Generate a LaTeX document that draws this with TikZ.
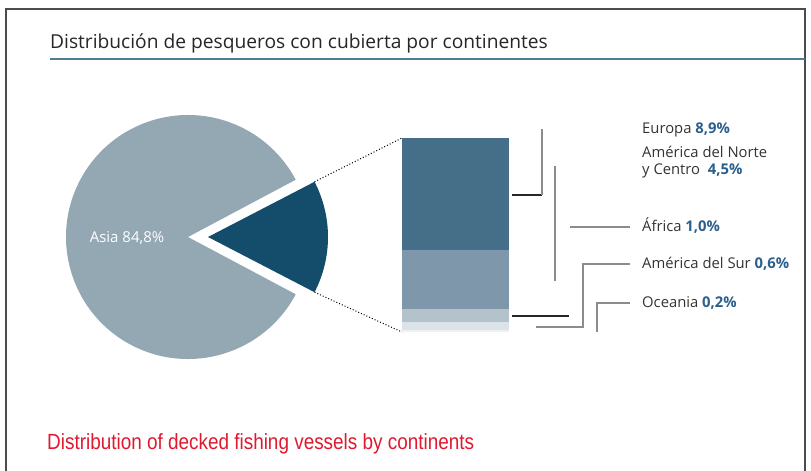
\documentclass[tikz,border=0pt]{standalone}
\usepackage{fontspec}
\setmainfont{Open Sans}
\newfontfamily\capfont[FakeStretch=0.86]{Liberation Sans}
\usetikzlibrary{calc}
\definecolor{piegray}{HTML}{94A8B4}
\definecolor{piedark}{HTML}{134D6B}
\definecolor{barone}{HTML}{456F88}
\definecolor{bartwo}{HTML}{7F97AA}
\definecolor{barthree}{HTML}{B4C2CC}
\definecolor{barfour}{HTML}{DCE3E8}
\definecolor{barfive}{HTML}{EEF1F4}
\definecolor{rulecol}{HTML}{4F7D93}
\definecolor{pctblue}{HTML}{2B5F8C}
\definecolor{capred}{HTML}{E0192F}
\definecolor{txtgray}{HTML}{333333}
\newcommand{\pct}[1]{\textcolor{pctblue}{\bfseries #1}}

\begin{document}
\begin{tikzpicture}[x=1pt,y=-1pt,
    lead/.style={draw=black!45,line width=1.3pt},
    leaddark/.style={draw=black!85,line width=1.3pt},
    lbl/.style={anchor=base west,inner sep=0pt,text=txtgray,font=\fontsize{14.8}{17}\selectfont,align=left}]
  \useasboundingbox (0,0) rectangle (811,471);
  % frame and title
  \draw [black!70,line width=1.3pt] (6,471) -- (6,9) -- (805,9) -- (805,471);
  \node [anchor=base west,inner sep=0pt,text=black!85,font=\fontsize{19.2}{21}\selectfont] (title) at (50,48) {Distribución de pesqueros con cubierta por continentes};
  \draw [rulecol,line width=2.5pt] (50,59) -- (805,59);
  % pie
  \coordinate (c) at (188,237);
  \fill [piegray] (c) -- ++(28:122) arc (28:332:122) -- cycle;
  \coordinate (w) at (208,237);
  \fill [piedark] (w) -- ++(-27.4:120) arc (-27.4:27.4:120) -- cycle;
  \coordinate (wtop) at ($(w)+(-27.4:120)$);
  \coordinate (wbot) at ($(w)+(27.4:120)$);
  \node [text=white,font=\fontsize{15}{16}\selectfont,inner sep=0pt] (asia) at (127,238) {Asia 84,8\%};
  % bar
  \fill [barone] (402,138) rectangle (509,250);
  \fill [bartwo] (402,250) rectangle (509,309);
  \fill [barthree] (402,309) rectangle (509,322);
  \fill [barfour] (402,322) rectangle (509,330);
  \fill [barfive] (402,330) rectangle (509,332);
  \coordinate (btop) at (402,138);
  \coordinate (bbot) at (402,332);
  \draw [dotted,line width=1pt] (wtop) -- (btop);
  \draw [dotted,line width=1pt] (wbot) -- (bbot);
  % labels
  \node [lbl] (europa) at (642,133) {Europa \pct{8,9\%}};
  \node [lbl] (norte) at (642,174) {América del Norte\\y Centro \ \pct{4,5\%}};
  \node [lbl] (africa) at (642,231) {África \pct{1,0\%}};
  \node [lbl] (sur) at (642,268) {América del Sur \pct{0,6\%}};
  \node [lbl] (oceania) at (642,307) {Oceania \pct{0,2\%}};
  % leaders
  \draw [leaddark] (512,195) -- (542,195);
  \draw [lead] (542,195) -- (542,129);
  \draw [lead] (555,166) -- (555,281);
  \draw [lead] (570,227) -- ($(africa.base west)+(-12,-4)$);
  \draw [lead] (536,327) -- (583,327) -- (583,264) -- ($(sur.base west)+(-12,-4)$);
  \draw [leaddark] (512,316) -- (569,316);
  \draw [lead] (597,332) -- (597,303) -- ($(oceania.base west)+(-12,-4)$);
  % caption
  \node [anchor=base west,inner sep=0pt,text=capred,font=\capfont\fontsize{22}{24}\selectfont] (caption) at (47,449) {Distribution of decked fishing vessels by continents};
\end{tikzpicture}
\end{document}
